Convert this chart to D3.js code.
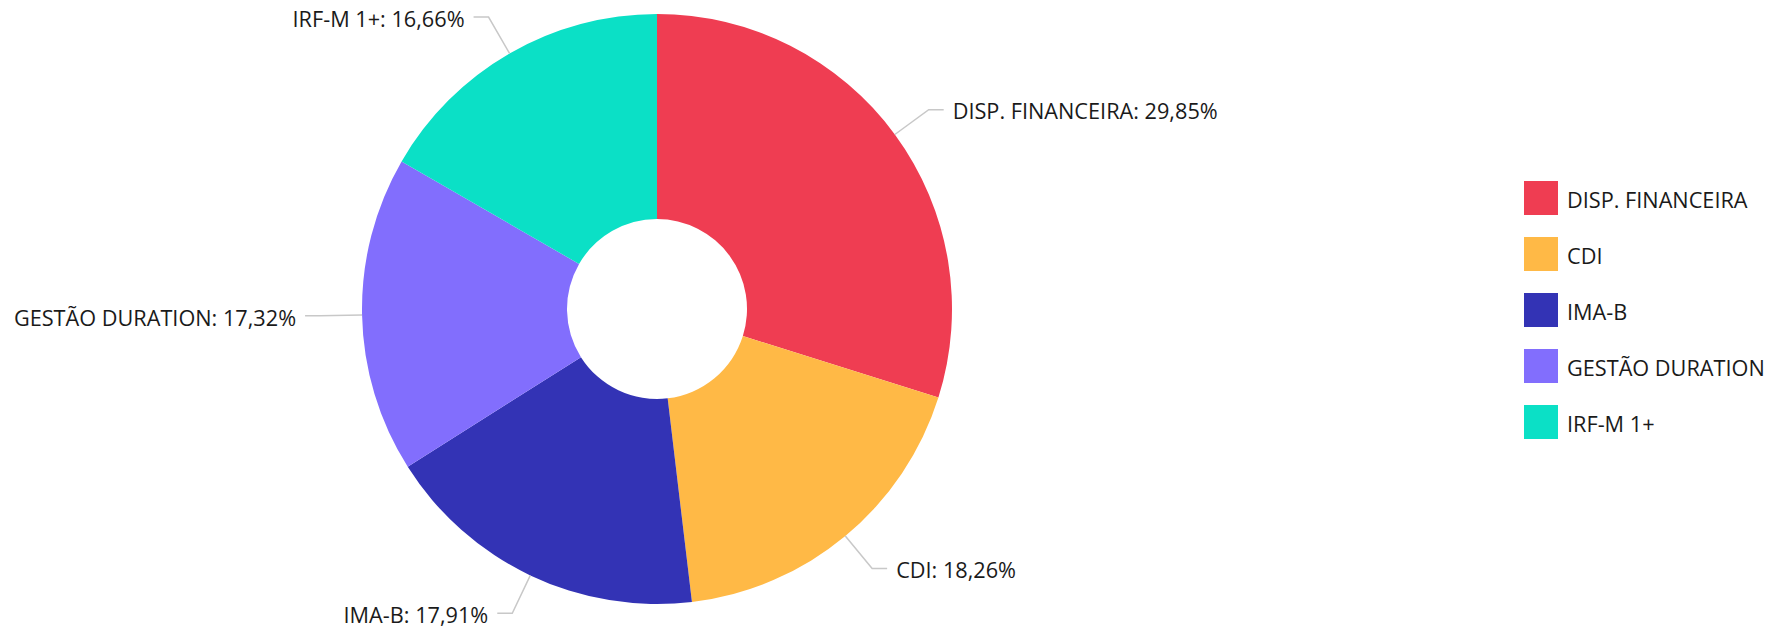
<!DOCTYPE html>
<html>
<head>
<meta charset="utf-8">
<script src="https://cdn.jsdelivr.net/npm/d3@7"></script>
<style>
    body { margin: 0; background: #fff; }
    text { font-family: "Open Sans", "Noto Sans", sans-serif; fill: #1a1a1a; }
</style>
</head>
<body>
<div id="chart"></div>
<script>
// data
const categories = ["DISP. FINANCEIRA", "CDI", "IMA-B", "GESTÃO DURATION", "IRF-M 1+"];
const shares = [29.85, 18.26, 17.91, 17.32, 16.66];
const sliceColors = ["#EF3D52", "#FFB946", "#3333B5", "#826EFD", "#0BE0C6"];

const width = 1767, height = 629;
const cx = 657, cy = 309;
const outerR = 295, innerR = 90;
const fontSize = 21.7;

const svg = d3.select("#chart").append("svg")
    .attr("width", width)
    .attr("height", height);

const color = d3.scaleOrdinal().domain(categories).range(sliceColors);

const items = categories.map((c, i) => ({ name: c, value: shares[i] }));

const pie = d3.pie()
    .sort(null)
    .value(d => d.value);

const arc = d3.arc()
    .innerRadius(innerR)
    .outerRadius(outerR);

const arcs = pie(items);

const pieG = svg.append("g")
    .attr("transform", "translate(" + cx + "," + cy + ")");

pieG.selectAll(".slice")
    .data(arcs)
    .join("path")
    .attr("class", "slice")
    .attr("d", arc)
    .attr("fill", d => color(d.data.name));

// labels with connector: radial segment, then a short horizontal one
const fmt = v => v.toFixed(2).replace(".", ",") + "%";
const radialLen = 42, horizLen = 15, textGap = 9;

const labelG = pieG.selectAll(".labelG")
    .data(arcs)
    .join("g")
    .attr("class", "labelG");

labelG.each(function(d) {
    const mid = (d.startAngle + d.endAngle) / 2;
    const sx = Math.sin(mid), sy = -Math.cos(mid);
    const right = sx >= 0 ? 1 : -1;
    const p0 = [outerR * sx, outerR * sy];
    const p1 = [(outerR + radialLen) * sx, (outerR + radialLen) * sy];
    const p2 = [p1[0] + right * horizLen, p1[1]];
    const g = d3.select(this);
    g.append("polyline")
        .attr("points", [p0, p1, p2].map(p => p.join(",")).join(" "))
        .attr("fill", "none")
        .attr("stroke", "#c8c8c8")
        .attr("stroke-width", 1.5);
    g.append("text")
        .attr("x", p2[0] + right * textGap)
        .attr("y", p2[1])
        .attr("dy", "0.45em")
        .attr("text-anchor", right > 0 ? "start" : "end")
        .attr("font-size", fontSize)
        .text(d.data.name + ": " + fmt(d.data.value));
});

// legend
const legendY = d3.scalePoint().domain(categories).range([198, 422]);
const sw = 34;

const legendG = svg.append("g").attr("class", "legend");
const li = legendG.selectAll(".legendItem")
    .data(categories)
    .join("g")
    .attr("class", "legendItem")
    .attr("transform", c => "translate(1524," + legendY(c) + ")");

li.append("rect")
    .attr("x", 0)
    .attr("y", -sw / 2)
    .attr("width", sw)
    .attr("height", sw)
    .attr("fill", c => color(c));

li.append("text")
    .attr("x", 43)
    .attr("y", 0)
    .attr("dy", "0.45em")
    .attr("font-size", fontSize)
    .text(c => c);
</script>
</body>
</html>
